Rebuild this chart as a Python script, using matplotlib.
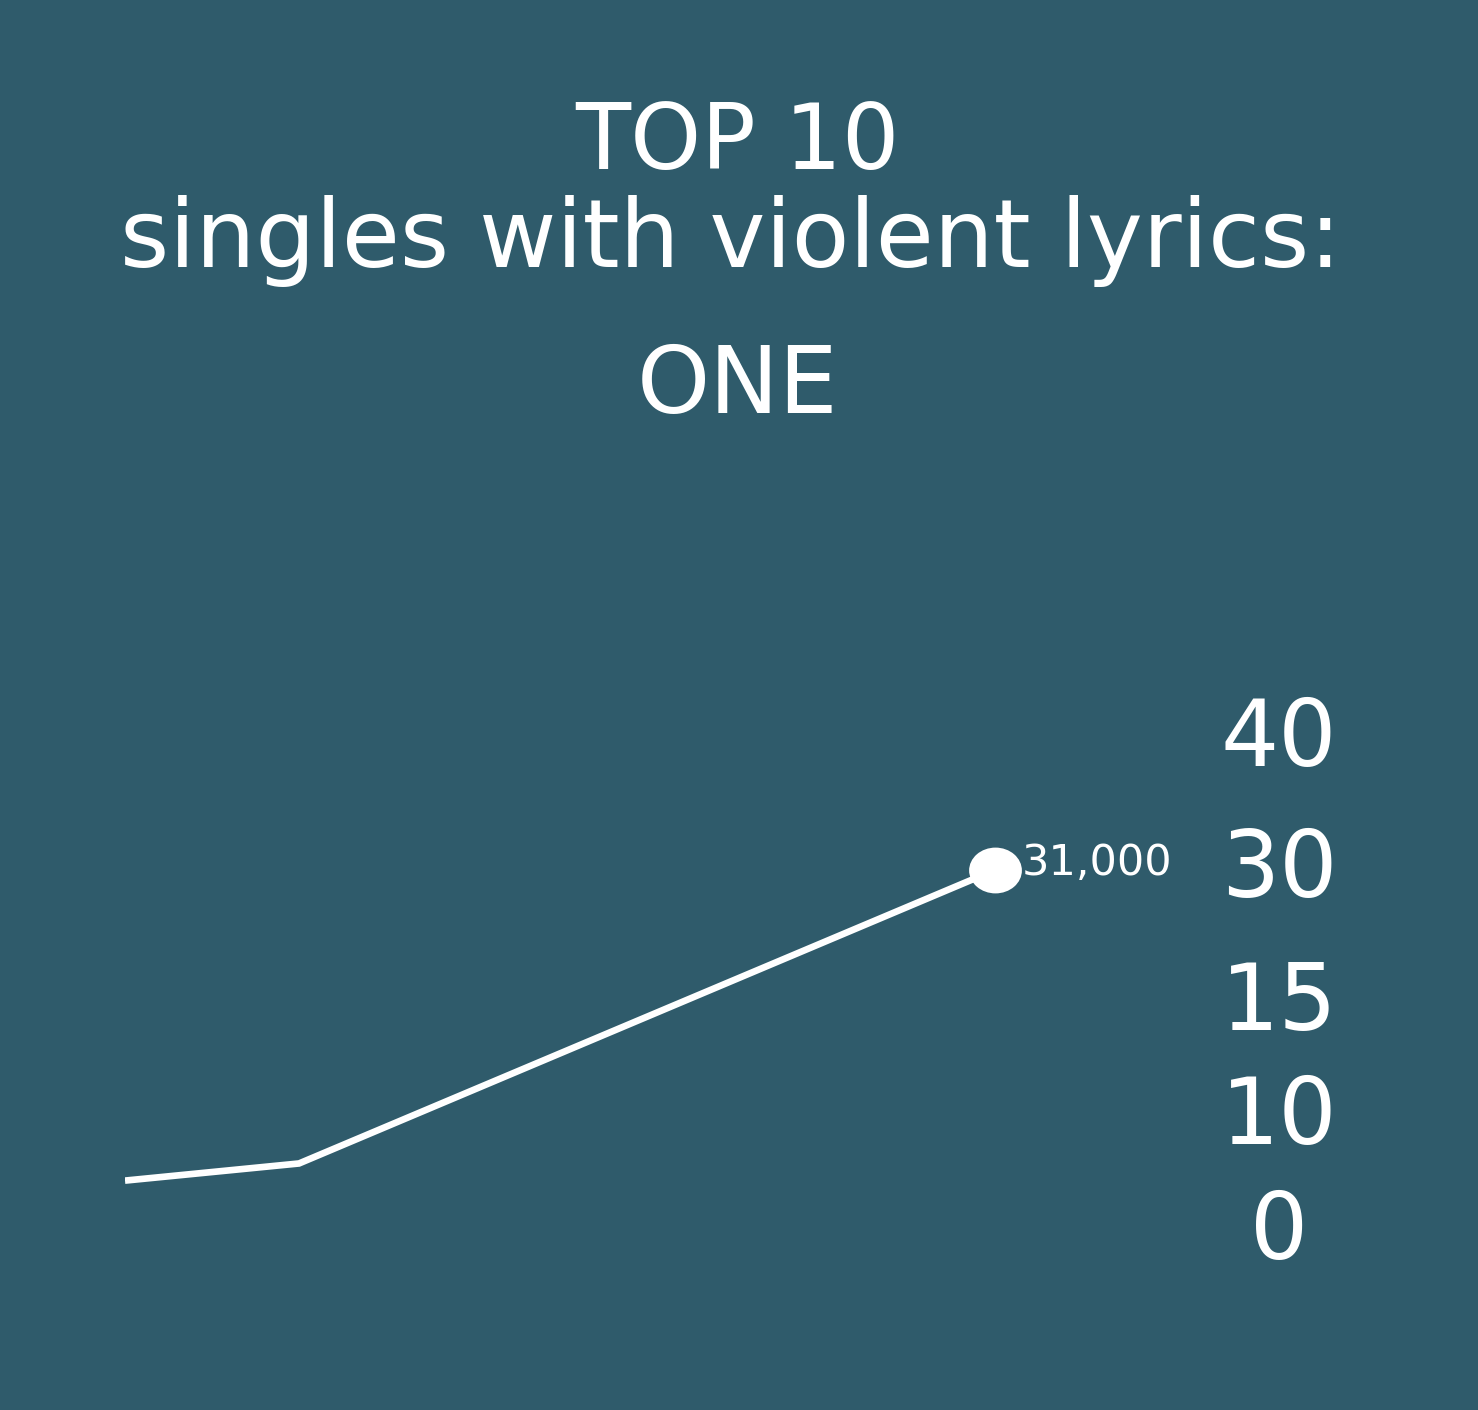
import matplotlib
matplotlib.use("Agg")
import matplotlib.pyplot as plt
from matplotlib.path import Path
from matplotlib.transforms import Affine2D

# data (thousands of singles)
steps = [0, 1, 5]
values = [3.8, 5.3, 31.0]
point_label = "31,000"
tick_pos = [0, 10.1, 20.1, 31.7, 43.2]
tick_labels = ["0", "10", "15", "30", "40"]

BG = "#2f5b6b"
FG = "white"

W, H = 1478, 1410
fig = plt.figure(figsize=(W / 100, H / 100), dpi=100, facecolor=BG)
plt.rcParams["font.family"] = ["DejaVu Sans"]


def fy(px):
    return 1 - px / H


# titles
fig.text(737 / W, fy(169), "TOP 10", ha="center", va="baseline",
         color=FG, fontsize=65)
fig.text(731 / W, fy(267), "singles with violent lyrics:", ha="center",
         va="baseline", color=FG, fontsize=68)
fig.text(738 / W, fy(413), "ONE", ha="center", va="baseline",
         color=FG, fontsize=67)

# plot area
left, right, top, bottom = 125, 1200, 680, 1290
ax = fig.add_axes([left / W, fy(bottom), (right - left) / W, (bottom - top) / H])
ax.set_facecolor("none")
ax.set_xlim(0, (right - left) / 174)
ax.set_ylim(-(bottom - 1224) / 11.42, (1224 - top) / 11.42)

ax.plot(steps, values, color=FG, linewidth=4.8, solid_joinstyle="miter",
        solid_capstyle="butt", zorder=2)

# slightly squashed dot at the last value
ellipse = Path.unit_circle().transformed(Affine2D().scale(1, 46 / 53))
ax.plot(steps[-1], values[-1], marker=ellipse, markersize=38, color=FG,
        markeredgewidth=0, zorder=3)
ax.annotate(point_label, (steps[-1], values[-1]), xytext=(19, 5),
            textcoords="offset points", ha="left", va="center",
            color=FG, fontsize=31)

ax.yaxis.tick_right()
ax.set_yticks(tick_pos)
ax.set_yticklabels(tick_labels)
ax.tick_params(axis="y", length=0, pad=57, labelsize=66, labelcolor=FG)
for lab in ax.get_yticklabels():
    lab.set_horizontalalignment("center")
ax.set_xticks([])
for s in ax.spines.values():
    s.set_visible(False)

fig.savefig("out.png", dpi=100, facecolor=BG)
